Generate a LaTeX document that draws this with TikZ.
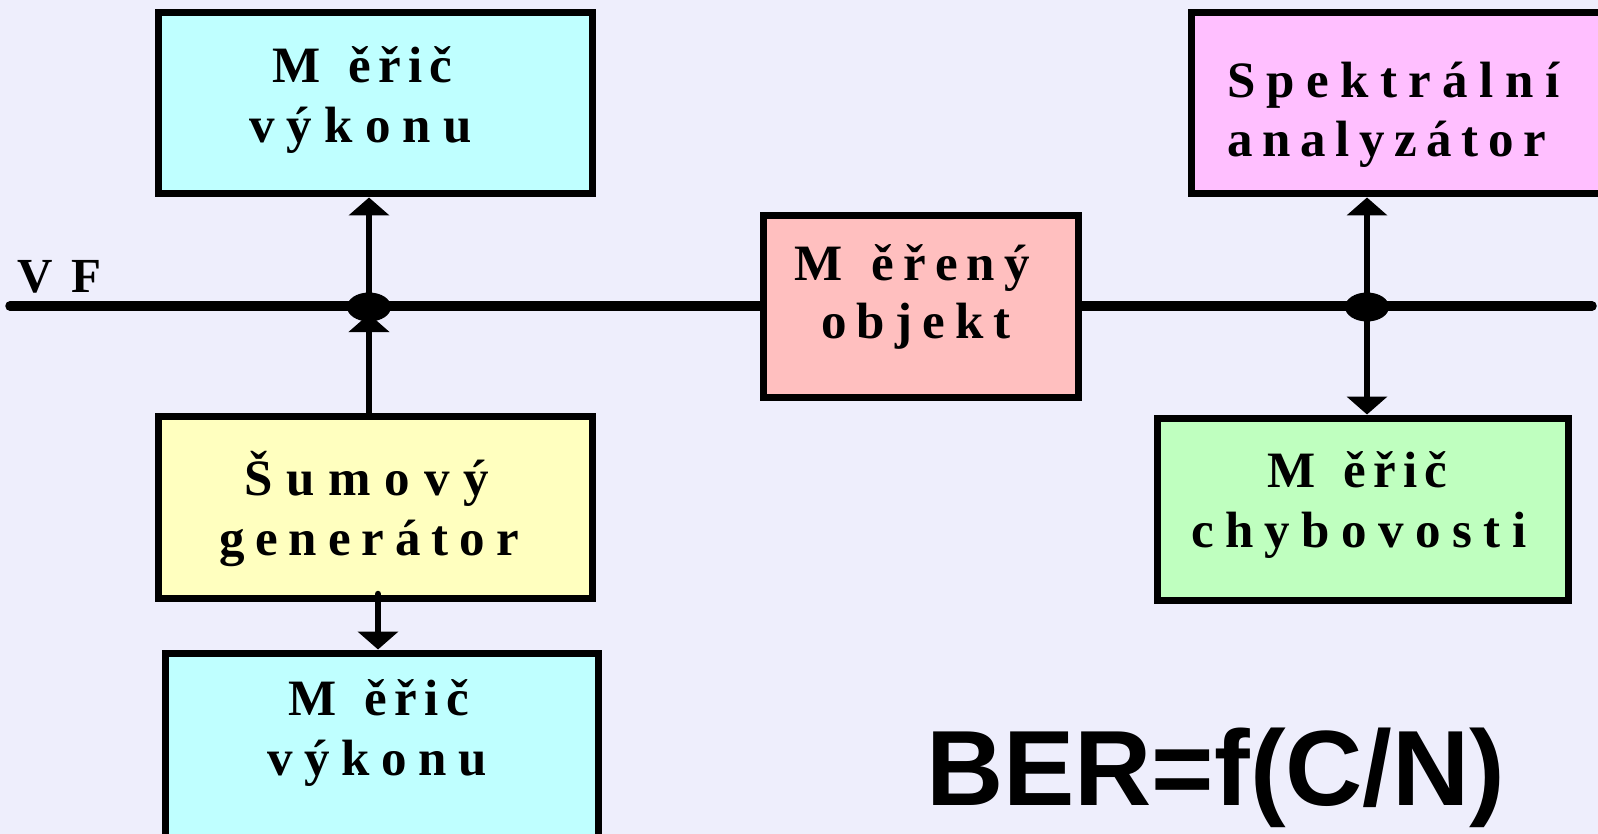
\documentclass[tikz,border=0pt]{standalone}
\usepackage{fontspec}
\setmainfont{Liberation Serif}
\newfontfamily\bersans{Liberation Sans}
\usetikzlibrary{arrows.meta,shapes.geometric}

\definecolor{bg}{RGB}{238,238,252}
\definecolor{cyanbox}{RGB}{191,255,255}
\definecolor{yellowbox}{RGB}{255,255,191}
\definecolor{salmonbox}{RGB}{255,191,191}
\definecolor{pinkbox}{RGB}{255,191,255}
\definecolor{greenbox}{RGB}{191,255,191}

% spaced bold serif used inside the blocks; #1 = letter spacing in % of size
\newcommand\blocktext[1]{\fontsize{51}{60}\selectfont\bfseries\addfontfeature{LetterSpace=#1}}
% extra gap after the capital M
\newcommand\mgap{\hspace{8pt}}

\tikzset{
  block/.style={draw=black, line width=7pt, rectangle, inner sep=0pt},
  lbl/.style={anchor=base west, inner sep=0pt, outer sep=0pt},
  bus/.style={line width=9.5pt, line cap=round},
  arr/.style={line width=6.5pt, -{Triangle[width=40pt,length=18pt]}},
  junction/.style={ellipse, fill=black, minimum width=44pt, minimum height=29pt, inner sep=0pt},
}

\begin{document}
\begin{tikzpicture}[x=1pt, y=-1pt]
  \useasboundingbox (0,0) rectangle (1598,834);
  \clip (0,0) rectangle (1598,834);
  \fill[bg] (0,0) rectangle (1598,834);

  % blocks
  \node[block, fill=cyanbox,   minimum width=434, minimum height=181] (pm1) at (375,103.5) {};
  \node[block, fill=yellowbox, minimum width=434, minimum height=182] (gen) at (375,507) {};
  \node[block, fill=cyanbox,   minimum width=433, minimum height=200] (pm2) at (381.5,753) {};
  \node[block, fill=salmonbox, minimum width=315, minimum height=181] (dut) at (920.5,306.5) {};
  \node[block, fill=pinkbox,   minimum width=419, minimum height=181] (sa)  at (1400.5,103.5) {};
  \node[block, fill=greenbox,  minimum width=411, minimum height=182] (ber) at (1362.5,509) {};

  % block texts
  \node[lbl] (pm1a) at (272,83)  {\blocktext{14.5}M\mgap{} ěřič};
  \node[lbl] (pm1b) at (249,143) {\blocktext{24.1}výkonu};
  \node[lbl] (gena) at (244,495) {\blocktext{27.3}Šumový};
  \node[lbl] (genb) at (219,555) {\blocktext{21.4}generátor};
  \node[lbl] (pm2a) at (288,715) {\blocktext{14.9}M\mgap{} ěřič};
  \node[lbl] (pm2b) at (267,775) {\blocktext{22.9}výkonu};
  \node[lbl] (duta) at (794,280) {\blocktext{17.7}M\mgap{} ěřený};
  \node[lbl] (dutb) at (821,338) {\blocktext{20.0}objekt};
  \node[lbl] (saa)  at (1227,98)  {\blocktext{22.4}Spektrální};
  \node[lbl] (sab)  at (1227,157) {\blocktext{19.0}analyzátor};
  \node[lbl] (bera) at (1267,487) {\blocktext{14.5}M\mgap{} ěřič};
  \node[lbl] (berb) at (1191,547) {\blocktext{22.4}chybovosti};

  % RF bus
  \coordinate (busl) at (10,306);
  \coordinate (busr) at (1592,306);
  \node[lbl] (vf) at (17,293) {\fontsize{49}{56}\selectfont\bfseries\addfontfeature{LetterSpace=15}V F};
  \draw[bus] (busl) -- (dut.west |- busl);
  \draw[bus] (dut.east |- busr) -- (busr);

  % junction points on the bus
  \coordinate (jl) at (369,307);
  \coordinate (jr) at (1367,307);
  \coordinate (jlin) at (369,314);
  \coordinate (genout) at (378,594);

  % branches
  \draw[arr] (jl) -- (jl |- pm1.south);
  \draw[arr] (jl |- gen.north) -- (jlin);
  \draw[arr, line cap=round] (genout) -- (genout |- pm2.north);
  \draw[arr] (jr) -- (jr |- sa.south);
  \draw[arr] (jr) -- (jr |- ber.north);

  \node[junction] (jln) at (jl) {};
  \node[junction] (jrn) at (jr) {};

  % formula
  \node[lbl] (formula) at (926,805) {\bersans\bfseries\fontsize{107}{120}\selectfont BER=f(C/N)};
\end{tikzpicture}
\end{document}
